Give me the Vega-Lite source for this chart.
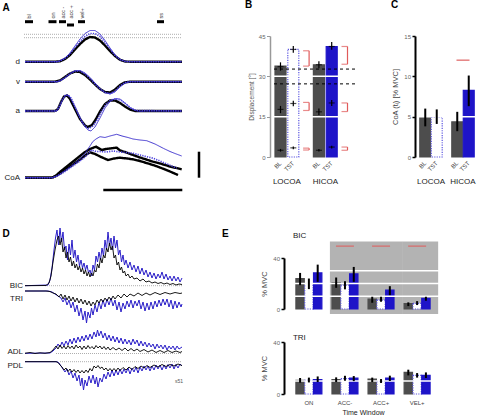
{
"$schema": "https://vega.github.io/schema/vega-lite/v6.json",
"padding": {"left": 2, "top": 0, "right": 0, "bottom": 0},
"background": "white",
"bounds": "flush",
"spacing": 222,
"resolve": {"scale": {"x": "independent", "y": "independent", "xOffset": "independent"}},
"config": {"view": {"stroke": null}, "font": "Liberation Sans", "axis": {"grid": false, "labelFont": "Liberation Sans", "titleFont": "Liberation Sans", "titleFontWeight": "normal"}, "title": {"font": "Liberation Sans"}, "text": {"font": "Liberation Sans"}},
"datasets": {
"A": [
{"k":"dB","c":"BL","t":25,"y":61.7},{"k":"dB","c":"BL","t":55,"y":61.7},{"k":"dB","c":"BL","t":60,"y":61.3},{"k":"dB","c":"BL","t":65,"y":59},{"k":"dB","c":"BL","t":70,"y":55},{"k":"dB","c":"BL","t":75,"y":49.5},{"k":"dB","c":"BL","t":80,"y":44},{"k":"dB","c":"BL","t":85,"y":39.5},{"k":"dB","c":"BL","t":90,"y":37},{"k":"dB","c":"BL","t":95,"y":37.5},{"k":"dB","c":"BL","t":100,"y":40.5},{"k":"dB","c":"BL","t":105,"y":45.5},{"k":"dB","c":"BL","t":110,"y":51},{"k":"dB","c":"BL","t":115,"y":56},{"k":"dB","c":"BL","t":120,"y":59.8},{"k":"dB","c":"BL","t":125,"y":61.5},{"k":"dB","c":"BL","t":130,"y":61.7},{"k":"dB","c":"BL","t":182,"y":61.7},
{"k":"dH","c":"HI","t":25,"y":61.7},{"k":"dH","c":"HI","t":57,"y":61.7},{"k":"dH","c":"HI","t":60,"y":61},{"k":"dH","c":"HI","t":65,"y":58},{"k":"dH","c":"HI","t":70,"y":53},{"k":"dH","c":"HI","t":75,"y":46},{"k":"dH","c":"HI","t":80,"y":39},{"k":"dH","c":"HI","t":85,"y":33.5},{"k":"dH","c":"HI","t":90,"y":30.5},{"k":"dH","c":"HI","t":95,"y":30.5},{"k":"dH","c":"HI","t":100,"y":34},{"k":"dH","c":"HI","t":105,"y":40.5},{"k":"dH","c":"HI","t":110,"y":48},{"k":"dH","c":"HI","t":115,"y":55},{"k":"dH","c":"HI","t":120,"y":59.5},{"k":"dH","c":"HI","t":125,"y":61.3},{"k":"dH","c":"HI","t":130,"y":61.7},{"k":"dH","c":"HI","t":182,"y":61.7},
{"k":"dL","c":"LO","t":25,"y":61.7},{"k":"dL","c":"LO","t":57,"y":61.7},{"k":"dL","c":"LO","t":60,"y":61},{"k":"dL","c":"LO","t":65,"y":58.5},{"k":"dL","c":"LO","t":70,"y":54},{"k":"dL","c":"LO","t":75,"y":47.5},{"k":"dL","c":"LO","t":80,"y":41.5},{"k":"dL","c":"LO","t":85,"y":36.5},{"k":"dL","c":"LO","t":90,"y":33.5},{"k":"dL","c":"LO","t":95,"y":33.5},{"k":"dL","c":"LO","t":100,"y":36.5},{"k":"dL","c":"LO","t":105,"y":42.5},{"k":"dL","c":"LO","t":110,"y":49},{"k":"dL","c":"LO","t":115,"y":55.5},{"k":"dL","c":"LO","t":120,"y":59.5},{"k":"dL","c":"LO","t":125,"y":61.4},{"k":"dL","c":"LO","t":130,"y":61.7},{"k":"dL","c":"LO","t":182,"y":61.7},
{"k":"vB","c":"BL","t":25,"y":81.7},{"k":"vB","c":"BL","t":55,"y":81.7},{"k":"vB","c":"BL","t":60,"y":80.5},{"k":"vB","c":"BL","t":65,"y":77},{"k":"vB","c":"BL","t":70,"y":73.5},{"k":"vB","c":"BL","t":75,"y":71.5},{"k":"vB","c":"BL","t":80,"y":72},{"k":"vB","c":"BL","t":85,"y":75},{"k":"vB","c":"BL","t":90,"y":79.5},{"k":"vB","c":"BL","t":95,"y":84.5},{"k":"vB","c":"BL","t":100,"y":89},{"k":"vB","c":"BL","t":105,"y":92},{"k":"vB","c":"BL","t":110,"y":92.5},{"k":"vB","c":"BL","t":115,"y":89.5},{"k":"vB","c":"BL","t":120,"y":85},{"k":"vB","c":"BL","t":125,"y":82.3},{"k":"vB","c":"BL","t":130,"y":81.7},{"k":"vB","c":"BL","t":182,"y":81.7},
{"k":"vH","c":"HI","t":25,"y":81.7},{"k":"vH","c":"HI","t":57,"y":81.7},{"k":"vH","c":"HI","t":60,"y":81},{"k":"vH","c":"HI","t":65,"y":78},{"k":"vH","c":"HI","t":70,"y":74},{"k":"vH","c":"HI","t":75,"y":71},{"k":"vH","c":"HI","t":80,"y":70.5},{"k":"vH","c":"HI","t":85,"y":73},{"k":"vH","c":"HI","t":90,"y":77.5},{"k":"vH","c":"HI","t":95,"y":83},{"k":"vH","c":"HI","t":100,"y":88.5},{"k":"vH","c":"HI","t":105,"y":92.5},{"k":"vH","c":"HI","t":110,"y":94},{"k":"vH","c":"HI","t":115,"y":92},{"k":"vH","c":"HI","t":120,"y":87},{"k":"vH","c":"HI","t":125,"y":83},{"k":"vH","c":"HI","t":130,"y":81.7},{"k":"vH","c":"HI","t":182,"y":81.7},
{"k":"vL","c":"LO","t":25,"y":81.7},{"k":"vL","c":"LO","t":57,"y":81.7},{"k":"vL","c":"LO","t":60,"y":80.8},{"k":"vL","c":"LO","t":65,"y":77.5},{"k":"vL","c":"LO","t":70,"y":73.5},{"k":"vL","c":"LO","t":75,"y":70.8},{"k":"vL","c":"LO","t":80,"y":71},{"k":"vL","c":"LO","t":85,"y":74},{"k":"vL","c":"LO","t":90,"y":78.5},{"k":"vL","c":"LO","t":95,"y":84},{"k":"vL","c":"LO","t":100,"y":89},{"k":"vL","c":"LO","t":105,"y":92.5},{"k":"vL","c":"LO","t":110,"y":93.5},{"k":"vL","c":"LO","t":115,"y":91},{"k":"vL","c":"LO","t":120,"y":86},{"k":"vL","c":"LO","t":125,"y":82.5},{"k":"vL","c":"LO","t":130,"y":81.7},{"k":"vL","c":"LO","t":182,"y":81.7},
{"k":"aB","c":"BL","t":25,"y":111},{"k":"aB","c":"BL","t":55,"y":111},{"k":"aB","c":"BL","t":58,"y":109},{"k":"aB","c":"BL","t":61,"y":102},{"k":"aB","c":"BL","t":64,"y":96.5},{"k":"aB","c":"BL","t":67,"y":95.5},{"k":"aB","c":"BL","t":70,"y":99},{"k":"aB","c":"BL","t":75,"y":109},{"k":"aB","c":"BL","t":80,"y":119},{"k":"aB","c":"BL","t":85,"y":125.5},{"k":"aB","c":"BL","t":88,"y":127},{"k":"aB","c":"BL","t":92,"y":125},{"k":"aB","c":"BL","t":96,"y":119},{"k":"aB","c":"BL","t":100,"y":111.5},{"k":"aB","c":"BL","t":105,"y":104},{"k":"aB","c":"BL","t":110,"y":100.5},{"k":"aB","c":"BL","t":115,"y":100.5},{"k":"aB","c":"BL","t":120,"y":103},{"k":"aB","c":"BL","t":125,"y":106.5},{"k":"aB","c":"BL","t":130,"y":109.5},{"k":"aB","c":"BL","t":135,"y":111},{"k":"aB","c":"BL","t":182,"y":111},
{"k":"aH","c":"HI","t":25,"y":111},{"k":"aH","c":"HI","t":57,"y":111},{"k":"aH","c":"HI","t":60,"y":106},{"k":"aH","c":"HI","t":63,"y":99},{"k":"aH","c":"HI","t":66,"y":95},{"k":"aH","c":"HI","t":69,"y":95.5},{"k":"aH","c":"HI","t":73,"y":103},{"k":"aH","c":"HI","t":78,"y":114},{"k":"aH","c":"HI","t":83,"y":124},{"k":"aH","c":"HI","t":88,"y":130},{"k":"aH","c":"HI","t":91,"y":131},{"k":"aH","c":"HI","t":95,"y":127},{"k":"aH","c":"HI","t":100,"y":118},{"k":"aH","c":"HI","t":105,"y":108},{"k":"aH","c":"HI","t":110,"y":101.5},{"k":"aH","c":"HI","t":115,"y":98.5},{"k":"aH","c":"HI","t":120,"y":99},{"k":"aH","c":"HI","t":125,"y":103},{"k":"aH","c":"HI","t":130,"y":107.5},{"k":"aH","c":"HI","t":135,"y":110.5},{"k":"aH","c":"HI","t":140,"y":111.5},{"k":"aH","c":"HI","t":145,"y":111},{"k":"aH","c":"HI","t":182,"y":111},
{"k":"aL","c":"LO","t":25,"y":111},{"k":"aL","c":"LO","t":56,"y":111},{"k":"aL","c":"LO","t":59,"y":107},{"k":"aL","c":"LO","t":62,"y":100},{"k":"aL","c":"LO","t":65,"y":95.5},{"k":"aL","c":"LO","t":68,"y":95},{"k":"aL","c":"LO","t":71,"y":98},{"k":"aL","c":"LO","t":76,"y":109},{"k":"aL","c":"LO","t":81,"y":120},{"k":"aL","c":"LO","t":86,"y":127},{"k":"aL","c":"LO","t":89,"y":128.5},{"k":"aL","c":"LO","t":93,"y":126},{"k":"aL","c":"LO","t":97,"y":120},{"k":"aL","c":"LO","t":101,"y":112},{"k":"aL","c":"LO","t":106,"y":104},{"k":"aL","c":"LO","t":111,"y":100},{"k":"aL","c":"LO","t":116,"y":99},{"k":"aL","c":"LO","t":121,"y":100.5},{"k":"aL","c":"LO","t":126,"y":104},{"k":"aL","c":"LO","t":131,"y":108},{"k":"aL","c":"LO","t":136,"y":110.5},{"k":"aL","c":"LO","t":182,"y":111},
{"k":"c1","c":"BL","t":25,"y":177.7},{"k":"c1","c":"BL","t":52,"y":177.7},{"k":"c1","c":"BL","t":56,"y":175.5},{"k":"c1","c":"BL","t":60,"y":172},{"k":"c1","c":"BL","t":65,"y":168},{"k":"c1","c":"BL","t":70,"y":164},{"k":"c1","c":"BL","t":75,"y":160},{"k":"c1","c":"BL","t":80,"y":156},{"k":"c1","c":"BL","t":85,"y":152},{"k":"c1","c":"BL","t":90,"y":149},{"k":"c1","c":"BL","t":96,"y":146.7},{"k":"c1","c":"BL","t":101.7,"y":150},{"k":"c1","c":"BL","t":106,"y":149},{"k":"c1","c":"BL","t":110,"y":148.5},{"k":"c1","c":"BL","t":116.7,"y":147.7},{"k":"c1","c":"BL","t":120,"y":150.5},{"k":"c1","c":"BL","t":125,"y":152},{"k":"c1","c":"BL","t":133,"y":155},{"k":"c1","c":"BL","t":140,"y":157.5},{"k":"c1","c":"BL","t":153,"y":161.7},{"k":"c1","c":"BL","t":160,"y":163.5},{"k":"c1","c":"BL","t":170,"y":166.5},{"k":"c1","c":"BL","t":181.7,"y":169.3},
{"k":"c2","c":"BL","t":25,"y":177.7},{"k":"c2","c":"BL","t":52,"y":177.7},{"k":"c2","c":"BL","t":56,"y":176},{"k":"c2","c":"BL","t":60,"y":173.5},{"k":"c2","c":"BL","t":65,"y":170},{"k":"c2","c":"BL","t":70,"y":166.5},{"k":"c2","c":"BL","t":75,"y":163},{"k":"c2","c":"BL","t":80,"y":159.5},{"k":"c2","c":"BL","t":85,"y":155.5},{"k":"c2","c":"BL","t":90,"y":152.3},{"k":"c2","c":"BL","t":95,"y":154},{"k":"c2","c":"BL","t":100,"y":156.5},{"k":"c2","c":"BL","t":108,"y":160},{"k":"c2","c":"BL","t":114,"y":158.5},{"k":"c2","c":"BL","t":120,"y":157.7},{"k":"c2","c":"BL","t":127,"y":158.5},{"k":"c2","c":"BL","t":133,"y":159.3},{"k":"c2","c":"BL","t":140,"y":161},{"k":"c2","c":"BL","t":153,"y":165},{"k":"c2","c":"BL","t":160,"y":167.5},{"k":"c2","c":"BL","t":170,"y":171.5},{"k":"c2","c":"BL","t":178,"y":175},
{"k":"cH","c":"HI","t":25,"y":177.7},{"k":"cH","c":"HI","t":52,"y":177.7},{"k":"cH","c":"HI","t":57,"y":176},{"k":"cH","c":"HI","t":60,"y":174},{"k":"cH","c":"HI","t":65,"y":170.5},{"k":"cH","c":"HI","t":70,"y":167},{"k":"cH","c":"HI","t":75,"y":163},{"k":"cH","c":"HI","t":80,"y":159},{"k":"cH","c":"HI","t":85,"y":153.5},{"k":"cH","c":"HI","t":90,"y":146},{"k":"cH","c":"HI","t":92.7,"y":141.7},{"k":"cH","c":"HI","t":96,"y":139},{"k":"cH","c":"HI","t":100,"y":136.7},{"k":"cH","c":"HI","t":105,"y":137.5},{"k":"cH","c":"HI","t":110,"y":136},{"k":"cH","c":"HI","t":116.7,"y":134.3},{"k":"cH","c":"HI","t":122,"y":136},{"k":"cH","c":"HI","t":128,"y":137.5},{"k":"cH","c":"HI","t":133,"y":139},{"k":"cH","c":"HI","t":140,"y":140},{"k":"cH","c":"HI","t":146.7,"y":140.7},{"k":"cH","c":"HI","t":155,"y":144},{"k":"cH","c":"HI","t":163.3,"y":148.3},{"k":"cH","c":"HI","t":170,"y":151.5},{"k":"cH","c":"HI","t":175,"y":153.5},{"k":"cH","c":"HI","t":181.7,"y":156},
{"k":"cL","c":"LO","t":25,"y":177.7},{"k":"cL","c":"LO","t":52,"y":177.7},{"k":"cL","c":"LO","t":57,"y":176},{"k":"cL","c":"LO","t":60,"y":174.5},{"k":"cL","c":"LO","t":65,"y":171.5},{"k":"cL","c":"LO","t":70,"y":168},{"k":"cL","c":"LO","t":75,"y":164.5},{"k":"cL","c":"LO","t":80,"y":161},{"k":"cL","c":"LO","t":85,"y":157},{"k":"cL","c":"LO","t":91.7,"y":150},{"k":"cL","c":"LO","t":96,"y":151.5},{"k":"cL","c":"LO","t":100,"y":151.5},{"k":"cL","c":"LO","t":106,"y":152},{"k":"cL","c":"LO","t":113.3,"y":151},{"k":"cL","c":"LO","t":120,"y":152},{"k":"cL","c":"LO","t":126,"y":152.5},{"k":"cL","c":"LO","t":133,"y":153.3},{"k":"cL","c":"LO","t":140,"y":155},{"k":"cL","c":"LO","t":153.3,"y":158.3},{"k":"cL","c":"LO","t":160,"y":161},{"k":"cL","c":"LO","t":167,"y":164},{"k":"cL","c":"LO","t":173,"y":166.7},{"k":"cL","c":"LO","t":176.7,"y":168}
],
"D": [
{"k":"bicB","c":"BL","t":25,"y":285.7},{"k":"bicB","c":"BL","t":46,"y":285.5},{"k":"bicB","c":"BL","t":49,"y":283},{"k":"bicB","c":"BL","t":51,"y":276},{"k":"bicB","c":"BL","t":53,"y":262},{"k":"bicB","c":"BL","t":55,"y":250},{"k":"bicB","c":"BL","t":57,"y":240},{"k":"bicB","c":"BL","t":58.5,"y":236},{"k":"bicB","c":"BL","t":60,"y":245},{"k":"bicB","c":"BL","t":61.5,"y":238},{"k":"bicB","c":"BL","t":63,"y":252},{"k":"bicB","c":"BL","t":64.5,"y":247},{"k":"bicB","c":"BL","t":66,"y":258},{"k":"bicB","c":"BL","t":67.5,"y":252},{"k":"bicB","c":"BL","t":69,"y":262},{"k":"bicB","c":"BL","t":70.5,"y":257},{"k":"bicB","c":"BL","t":72,"y":266},{"k":"bicB","c":"BL","t":73.5,"y":261},{"k":"bicB","c":"BL","t":75,"y":268},{"k":"bicB","c":"BL","t":76.5,"y":264},{"k":"bicB","c":"BL","t":78,"y":270},{"k":"bicB","c":"BL","t":79.5,"y":266},{"k":"bicB","c":"BL","t":81,"y":272},{"k":"bicB","c":"BL","t":82.5,"y":268},{"k":"bicB","c":"BL","t":84,"y":274},{"k":"bicB","c":"BL","t":85.5,"y":270},{"k":"bicB","c":"BL","t":87,"y":276},{"k":"bicB","c":"BL","t":88.5,"y":272},{"k":"bicB","c":"BL","t":90,"y":277},{"k":"bicB","c":"BL","t":91.5,"y":273},{"k":"bicB","c":"BL","t":93,"y":276},{"k":"bicB","c":"BL","t":94.5,"y":270},{"k":"bicB","c":"BL","t":96,"y":272},{"k":"bicB","c":"BL","t":97.5,"y":264},{"k":"bicB","c":"BL","t":99,"y":268},{"k":"bicB","c":"BL","t":100.5,"y":258},{"k":"bicB","c":"BL","t":102,"y":263},{"k":"bicB","c":"BL","t":103.5,"y":255},{"k":"bicB","c":"BL","t":105,"y":258},{"k":"bicB","c":"BL","t":106.5,"y":248},{"k":"bicB","c":"BL","t":108,"y":252},{"k":"bicB","c":"BL","t":109.5,"y":243},{"k":"bicB","c":"BL","t":111,"y":250},{"k":"bicB","c":"BL","t":112.5,"y":246},{"k":"bicB","c":"BL","t":114,"y":258},{"k":"bicB","c":"BL","t":115.5,"y":255},{"k":"bicB","c":"BL","t":117,"y":265},{"k":"bicB","c":"BL","t":118.5,"y":262},{"k":"bicB","c":"BL","t":120,"y":270},{"k":"bicB","c":"BL","t":121.5,"y":267},{"k":"bicB","c":"BL","t":123,"y":273},{"k":"bicB","c":"BL","t":124.5,"y":271},{"k":"bicB","c":"BL","t":126,"y":276},{"k":"bicB","c":"BL","t":128,"y":274},{"k":"bicB","c":"BL","t":130,"y":278},{"k":"bicB","c":"BL","t":132,"y":276},{"k":"bicB","c":"BL","t":134,"y":279},{"k":"bicB","c":"BL","t":137,"y":278},{"k":"bicB","c":"BL","t":140,"y":281},{"k":"bicB","c":"BL","t":143,"y":279},{"k":"bicB","c":"BL","t":146,"y":282},{"k":"bicB","c":"BL","t":149,"y":281},{"k":"bicB","c":"BL","t":152,"y":283},{"k":"bicB","c":"BL","t":155,"y":282},{"k":"bicB","c":"BL","t":158,"y":283.5},{"k":"bicB","c":"BL","t":161,"y":282.5},{"k":"bicB","c":"BL","t":164,"y":284},{"k":"bicB","c":"BL","t":167,"y":283},{"k":"bicB","c":"BL","t":170,"y":284.5},{"k":"bicB","c":"BL","t":173,"y":283.5},{"k":"bicB","c":"BL","t":176,"y":285},{"k":"bicB","c":"BL","t":179,"y":284},{"k":"bicB","c":"BL","t":182,"y":284.5},
{"k":"bicH","c":"HI","t":25,"y":285.7},{"k":"bicH","c":"HI","t":48,"y":285},{"k":"bicH","c":"HI","t":50,"y":280},{"k":"bicH","c":"HI","t":52,"y":268},{"k":"bicH","c":"HI","t":54,"y":250},{"k":"bicH","c":"HI","t":55.5,"y":238},{"k":"bicH","c":"HI","t":57,"y":230},{"k":"bicH","c":"HI","t":58.5,"y":245},{"k":"bicH","c":"HI","t":60,"y":228},{"k":"bicH","c":"HI","t":61.5,"y":242},{"k":"bicH","c":"HI","t":63,"y":232},{"k":"bicH","c":"HI","t":64.5,"y":250},{"k":"bicH","c":"HI","t":66,"y":246},{"k":"bicH","c":"HI","t":67.5,"y":260},{"k":"bicH","c":"HI","t":69,"y":244},{"k":"bicH","c":"HI","t":70.5,"y":255},{"k":"bicH","c":"HI","t":72,"y":240},{"k":"bicH","c":"HI","t":73.5,"y":258},{"k":"bicH","c":"HI","t":75,"y":250},{"k":"bicH","c":"HI","t":76.5,"y":262},{"k":"bicH","c":"HI","t":78,"y":255},{"k":"bicH","c":"HI","t":79.5,"y":266},{"k":"bicH","c":"HI","t":81,"y":260},{"k":"bicH","c":"HI","t":82.5,"y":268},{"k":"bicH","c":"HI","t":84,"y":263},{"k":"bicH","c":"HI","t":85.5,"y":270},{"k":"bicH","c":"HI","t":87,"y":265},{"k":"bicH","c":"HI","t":88.5,"y":273},{"k":"bicH","c":"HI","t":90,"y":270},{"k":"bicH","c":"HI","t":91.5,"y":276},{"k":"bicH","c":"HI","t":93,"y":265},{"k":"bicH","c":"HI","t":94.5,"y":270},{"k":"bicH","c":"HI","t":96,"y":256},{"k":"bicH","c":"HI","t":97.5,"y":262},{"k":"bicH","c":"HI","t":99,"y":252},{"k":"bicH","c":"HI","t":100.5,"y":260},{"k":"bicH","c":"HI","t":102,"y":248},{"k":"bicH","c":"HI","t":103.5,"y":256},{"k":"bicH","c":"HI","t":105,"y":240},{"k":"bicH","c":"HI","t":106.5,"y":250},{"k":"bicH","c":"HI","t":108,"y":232},{"k":"bicH","c":"HI","t":109.5,"y":246},{"k":"bicH","c":"HI","t":111,"y":238},{"k":"bicH","c":"HI","t":112.5,"y":250},{"k":"bicH","c":"HI","t":114,"y":236},{"k":"bicH","c":"HI","t":115.5,"y":248},{"k":"bicH","c":"HI","t":117,"y":240},{"k":"bicH","c":"HI","t":118.5,"y":255},{"k":"bicH","c":"HI","t":120,"y":250},{"k":"bicH","c":"HI","t":121.5,"y":262},{"k":"bicH","c":"HI","t":123,"y":255},{"k":"bicH","c":"HI","t":124.5,"y":265},{"k":"bicH","c":"HI","t":126,"y":260},{"k":"bicH","c":"HI","t":128,"y":268},{"k":"bicH","c":"HI","t":130,"y":262},{"k":"bicH","c":"HI","t":132,"y":270},{"k":"bicH","c":"HI","t":134,"y":265},{"k":"bicH","c":"HI","t":136,"y":272},{"k":"bicH","c":"HI","t":138,"y":266},{"k":"bicH","c":"HI","t":140,"y":274},{"k":"bicH","c":"HI","t":142,"y":268},{"k":"bicH","c":"HI","t":144,"y":275},{"k":"bicH","c":"HI","t":146,"y":270},{"k":"bicH","c":"HI","t":148,"y":277},{"k":"bicH","c":"HI","t":150,"y":272},{"k":"bicH","c":"HI","t":152,"y":278},{"k":"bicH","c":"HI","t":154,"y":273},{"k":"bicH","c":"HI","t":156,"y":279},{"k":"bicH","c":"HI","t":158,"y":274},{"k":"bicH","c":"HI","t":160,"y":278},{"k":"bicH","c":"HI","t":162,"y":272},{"k":"bicH","c":"HI","t":164,"y":279},{"k":"bicH","c":"HI","t":166,"y":274},{"k":"bicH","c":"HI","t":168,"y":280},{"k":"bicH","c":"HI","t":170,"y":276},{"k":"bicH","c":"HI","t":172,"y":281},{"k":"bicH","c":"HI","t":174,"y":276},{"k":"bicH","c":"HI","t":176,"y":281},{"k":"bicH","c":"HI","t":178,"y":277},{"k":"bicH","c":"HI","t":180,"y":282},{"k":"bicH","c":"HI","t":182,"y":278},
{"k":"triB","c":"BL","t":25,"y":291},{"k":"triB","c":"BL","t":46,"y":291},{"k":"triB","c":"BL","t":50,"y":291.5},{"k":"triB","c":"BL","t":53,"y":293},{"k":"triB","c":"BL","t":56,"y":294},{"k":"triB","c":"BL","t":59,"y":297},{"k":"triB","c":"BL","t":61,"y":294},{"k":"triB","c":"BL","t":63,"y":299},{"k":"triB","c":"BL","t":65,"y":295},{"k":"triB","c":"BL","t":67,"y":300},{"k":"triB","c":"BL","t":69,"y":296},{"k":"triB","c":"BL","t":71,"y":301},{"k":"triB","c":"BL","t":73,"y":297},{"k":"triB","c":"BL","t":75,"y":302},{"k":"triB","c":"BL","t":77,"y":298},{"k":"triB","c":"BL","t":79,"y":303},{"k":"triB","c":"BL","t":81,"y":299},{"k":"triB","c":"BL","t":83,"y":304},{"k":"triB","c":"BL","t":85,"y":300},{"k":"triB","c":"BL","t":87,"y":305},{"k":"triB","c":"BL","t":89,"y":301},{"k":"triB","c":"BL","t":91,"y":306},{"k":"triB","c":"BL","t":93,"y":302},{"k":"triB","c":"BL","t":95,"y":305},{"k":"triB","c":"BL","t":97,"y":300},{"k":"triB","c":"BL","t":99,"y":303},{"k":"triB","c":"BL","t":101,"y":299},{"k":"triB","c":"BL","t":103,"y":302},{"k":"triB","c":"BL","t":105,"y":298},{"k":"triB","c":"BL","t":107,"y":301},{"k":"triB","c":"BL","t":109,"y":297},{"k":"triB","c":"BL","t":111,"y":300},{"k":"triB","c":"BL","t":113,"y":296},{"k":"triB","c":"BL","t":115,"y":299},{"k":"triB","c":"BL","t":118,"y":295},{"k":"triB","c":"BL","t":121,"y":298},{"k":"triB","c":"BL","t":124,"y":294},{"k":"triB","c":"BL","t":127,"y":297},{"k":"triB","c":"BL","t":130,"y":294},{"k":"triB","c":"BL","t":134,"y":296},{"k":"triB","c":"BL","t":138,"y":293},{"k":"triB","c":"BL","t":142,"y":295.5},{"k":"triB","c":"BL","t":146,"y":293},{"k":"triB","c":"BL","t":150,"y":295},{"k":"triB","c":"BL","t":155,"y":292.5},{"k":"triB","c":"BL","t":160,"y":294.5},{"k":"triB","c":"BL","t":165,"y":292.5},{"k":"triB","c":"BL","t":170,"y":294},{"k":"triB","c":"BL","t":175,"y":292.5},{"k":"triB","c":"BL","t":180,"y":293.5},{"k":"triB","c":"BL","t":182,"y":293},
{"k":"triH","c":"HI","t":25,"y":291},{"k":"triH","c":"HI","t":48,"y":291},{"k":"triH","c":"HI","t":52,"y":292},{"k":"triH","c":"HI","t":55,"y":294},{"k":"triH","c":"HI","t":58,"y":296},{"k":"triH","c":"HI","t":61,"y":298},{"k":"triH","c":"HI","t":63,"y":302},{"k":"triH","c":"HI","t":65,"y":298},{"k":"triH","c":"HI","t":67,"y":305},{"k":"triH","c":"HI","t":69,"y":300},{"k":"triH","c":"HI","t":71,"y":308},{"k":"triH","c":"HI","t":73,"y":302},{"k":"triH","c":"HI","t":75,"y":312},{"k":"triH","c":"HI","t":77,"y":305},{"k":"triH","c":"HI","t":79,"y":316},{"k":"triH","c":"HI","t":81,"y":308},{"k":"triH","c":"HI","t":83,"y":320},{"k":"triH","c":"HI","t":85,"y":311},{"k":"triH","c":"HI","t":86.5,"y":323},{"k":"triH","c":"HI","t":88,"y":312},{"k":"triH","c":"HI","t":90,"y":318},{"k":"triH","c":"HI","t":91.5,"y":308},{"k":"triH","c":"HI","t":93,"y":315},{"k":"triH","c":"HI","t":95,"y":305},{"k":"triH","c":"HI","t":97,"y":312},{"k":"triH","c":"HI","t":99,"y":302},{"k":"triH","c":"HI","t":101,"y":309},{"k":"triH","c":"HI","t":103,"y":300},{"k":"triH","c":"HI","t":105,"y":307},{"k":"triH","c":"HI","t":107,"y":299},{"k":"triH","c":"HI","t":109,"y":305},{"k":"triH","c":"HI","t":111,"y":298},{"k":"triH","c":"HI","t":113,"y":306},{"k":"triH","c":"HI","t":115,"y":300},{"k":"triH","c":"HI","t":117,"y":310},{"k":"triH","c":"HI","t":119,"y":302},{"k":"triH","c":"HI","t":121,"y":312},{"k":"triH","c":"HI","t":123,"y":303},{"k":"triH","c":"HI","t":125,"y":309},{"k":"triH","c":"HI","t":127,"y":301},{"k":"triH","c":"HI","t":129,"y":307},{"k":"triH","c":"HI","t":131,"y":300},{"k":"triH","c":"HI","t":133,"y":308},{"k":"triH","c":"HI","t":135,"y":301},{"k":"triH","c":"HI","t":137,"y":306},{"k":"triH","c":"HI","t":139,"y":300},{"k":"triH","c":"HI","t":141,"y":309},{"k":"triH","c":"HI","t":143,"y":302},{"k":"triH","c":"HI","t":145,"y":311},{"k":"triH","c":"HI","t":147,"y":303},{"k":"triH","c":"HI","t":149,"y":310},{"k":"triH","c":"HI","t":151,"y":302},{"k":"triH","c":"HI","t":153,"y":309},{"k":"triH","c":"HI","t":155,"y":301},{"k":"triH","c":"HI","t":157,"y":307},{"k":"triH","c":"HI","t":159,"y":300},{"k":"triH","c":"HI","t":161,"y":306},{"k":"triH","c":"HI","t":163,"y":299},{"k":"triH","c":"HI","t":165,"y":305},{"k":"triH","c":"HI","t":167,"y":299},{"k":"triH","c":"HI","t":169,"y":307},{"k":"triH","c":"HI","t":171,"y":300},{"k":"triH","c":"HI","t":173,"y":309},{"k":"triH","c":"HI","t":175,"y":301},{"k":"triH","c":"HI","t":177,"y":308},{"k":"triH","c":"HI","t":179,"y":302},{"k":"triH","c":"HI","t":181,"y":307},{"k":"triH","c":"HI","t":182,"y":304},
{"k":"adlB","c":"BL","t":25,"y":353.3},{"k":"adlB","c":"BL","t":30,"y":352.5},{"k":"adlB","c":"BL","t":35,"y":353.5},{"k":"adlB","c":"BL","t":40,"y":352.8},{"k":"adlB","c":"BL","t":45,"y":353.3},{"k":"adlB","c":"BL","t":50,"y":352.5},{"k":"adlB","c":"BL","t":53,"y":350},{"k":"adlB","c":"BL","t":56,"y":346},{"k":"adlB","c":"BL","t":58,"y":349},{"k":"adlB","c":"BL","t":60,"y":345},{"k":"adlB","c":"BL","t":62,"y":348.5},{"k":"adlB","c":"BL","t":64,"y":346},{"k":"adlB","c":"BL","t":66,"y":349},{"k":"adlB","c":"BL","t":68,"y":345.5},{"k":"adlB","c":"BL","t":70,"y":348.5},{"k":"adlB","c":"BL","t":72,"y":346},{"k":"adlB","c":"BL","t":74,"y":349},{"k":"adlB","c":"BL","t":76,"y":345},{"k":"adlB","c":"BL","t":78,"y":348},{"k":"adlB","c":"BL","t":80,"y":346},{"k":"adlB","c":"BL","t":82,"y":349.5},{"k":"adlB","c":"BL","t":84,"y":346},{"k":"adlB","c":"BL","t":86,"y":349},{"k":"adlB","c":"BL","t":88,"y":345.5},{"k":"adlB","c":"BL","t":90,"y":348.5},{"k":"adlB","c":"BL","t":92,"y":346.5},{"k":"adlB","c":"BL","t":94,"y":349},{"k":"adlB","c":"BL","t":96,"y":345.5},{"k":"adlB","c":"BL","t":98,"y":348},{"k":"adlB","c":"BL","t":100,"y":346},{"k":"adlB","c":"BL","t":102,"y":349},{"k":"adlB","c":"BL","t":104,"y":346.5},{"k":"adlB","c":"BL","t":106,"y":349.5},{"k":"adlB","c":"BL","t":108,"y":347},{"k":"adlB","c":"BL","t":110,"y":350},{"k":"adlB","c":"BL","t":113,"y":347.5},{"k":"adlB","c":"BL","t":116,"y":350},{"k":"adlB","c":"BL","t":119,"y":348},{"k":"adlB","c":"BL","t":122,"y":350.5},{"k":"adlB","c":"BL","t":125,"y":348},{"k":"adlB","c":"BL","t":128,"y":351},{"k":"adlB","c":"BL","t":131,"y":348.5},{"k":"adlB","c":"BL","t":134,"y":351},{"k":"adlB","c":"BL","t":137,"y":349},{"k":"adlB","c":"BL","t":140,"y":351.5},{"k":"adlB","c":"BL","t":144,"y":349.5},{"k":"adlB","c":"BL","t":148,"y":352},{"k":"adlB","c":"BL","t":152,"y":350},{"k":"adlB","c":"BL","t":156,"y":352.5},{"k":"adlB","c":"BL","t":160,"y":350.5},{"k":"adlB","c":"BL","t":164,"y":352.5},{"k":"adlB","c":"BL","t":168,"y":350.5},{"k":"adlB","c":"BL","t":172,"y":352.5},{"k":"adlB","c":"BL","t":176,"y":351},{"k":"adlB","c":"BL","t":180,"y":352.5},{"k":"adlB","c":"BL","t":182,"y":351.5},
{"k":"adlH","c":"HI","t":25,"y":353.3},{"k":"adlH","c":"HI","t":50,"y":353},{"k":"adlH","c":"HI","t":53,"y":351},{"k":"adlH","c":"HI","t":56,"y":348},{"k":"adlH","c":"HI","t":58,"y":344},{"k":"adlH","c":"HI","t":60,"y":347},{"k":"adlH","c":"HI","t":62,"y":342},{"k":"adlH","c":"HI","t":64,"y":346},{"k":"adlH","c":"HI","t":66,"y":341},{"k":"adlH","c":"HI","t":68,"y":345},{"k":"adlH","c":"HI","t":70,"y":339},{"k":"adlH","c":"HI","t":72,"y":344},{"k":"adlH","c":"HI","t":74,"y":338},{"k":"adlH","c":"HI","t":76,"y":343},{"k":"adlH","c":"HI","t":78,"y":337},{"k":"adlH","c":"HI","t":80,"y":342},{"k":"adlH","c":"HI","t":82,"y":336},{"k":"adlH","c":"HI","t":84,"y":341},{"k":"adlH","c":"HI","t":86,"y":335},{"k":"adlH","c":"HI","t":88,"y":340},{"k":"adlH","c":"HI","t":90,"y":334},{"k":"adlH","c":"HI","t":92,"y":339},{"k":"adlH","c":"HI","t":94,"y":332},{"k":"adlH","c":"HI","t":96,"y":337},{"k":"adlH","c":"HI","t":97.5,"y":330},{"k":"adlH","c":"HI","t":99,"y":336},{"k":"adlH","c":"HI","t":101,"y":331},{"k":"adlH","c":"HI","t":103,"y":338},{"k":"adlH","c":"HI","t":105,"y":333},{"k":"adlH","c":"HI","t":107,"y":340},{"k":"adlH","c":"HI","t":109,"y":335},{"k":"adlH","c":"HI","t":111,"y":341},{"k":"adlH","c":"HI","t":113,"y":336},{"k":"adlH","c":"HI","t":115,"y":342},{"k":"adlH","c":"HI","t":117,"y":337},{"k":"adlH","c":"HI","t":119,"y":343},{"k":"adlH","c":"HI","t":121,"y":338},{"k":"adlH","c":"HI","t":123,"y":344},{"k":"adlH","c":"HI","t":125,"y":339},{"k":"adlH","c":"HI","t":127,"y":344},{"k":"adlH","c":"HI","t":129,"y":340},{"k":"adlH","c":"HI","t":131,"y":345},{"k":"adlH","c":"HI","t":133,"y":339},{"k":"adlH","c":"HI","t":135,"y":344},{"k":"adlH","c":"HI","t":137,"y":340},{"k":"adlH","c":"HI","t":139,"y":346},{"k":"adlH","c":"HI","t":141,"y":341},{"k":"adlH","c":"HI","t":143,"y":346},{"k":"adlH","c":"HI","t":145,"y":342},{"k":"adlH","c":"HI","t":147,"y":347},{"k":"adlH","c":"HI","t":149,"y":343},{"k":"adlH","c":"HI","t":151,"y":347},{"k":"adlH","c":"HI","t":153,"y":344},{"k":"adlH","c":"HI","t":155,"y":349},{"k":"adlH","c":"HI","t":157,"y":344},{"k":"adlH","c":"HI","t":159,"y":348},{"k":"adlH","c":"HI","t":161,"y":345},{"k":"adlH","c":"HI","t":163,"y":349},{"k":"adlH","c":"HI","t":165,"y":345},{"k":"adlH","c":"HI","t":167,"y":350},{"k":"adlH","c":"HI","t":169,"y":346},{"k":"adlH","c":"HI","t":171,"y":349},{"k":"adlH","c":"HI","t":173,"y":346},{"k":"adlH","c":"HI","t":175,"y":350},{"k":"adlH","c":"HI","t":177,"y":346},{"k":"adlH","c":"HI","t":179,"y":349},{"k":"adlH","c":"HI","t":182,"y":347},
{"k":"pdlB","c":"BL","t":25,"y":361.7},{"k":"pdlB","c":"BL","t":56,"y":361.7},{"k":"pdlB","c":"BL","t":58,"y":362.5},{"k":"pdlB","c":"BL","t":60,"y":365},{"k":"pdlB","c":"BL","t":62,"y":367},{"k":"pdlB","c":"BL","t":64,"y":370},{"k":"pdlB","c":"BL","t":66,"y":368},{"k":"pdlB","c":"BL","t":68,"y":371.5},{"k":"pdlB","c":"BL","t":70,"y":369},{"k":"pdlB","c":"BL","t":72,"y":372},{"k":"pdlB","c":"BL","t":74,"y":369.5},{"k":"pdlB","c":"BL","t":76,"y":372.5},{"k":"pdlB","c":"BL","t":78,"y":370},{"k":"pdlB","c":"BL","t":80,"y":373},{"k":"pdlB","c":"BL","t":82,"y":370.5},{"k":"pdlB","c":"BL","t":84,"y":373},{"k":"pdlB","c":"BL","t":86,"y":370},{"k":"pdlB","c":"BL","t":88,"y":372.5},{"k":"pdlB","c":"BL","t":90,"y":368.5},{"k":"pdlB","c":"BL","t":92,"y":371},{"k":"pdlB","c":"BL","t":94,"y":366},{"k":"pdlB","c":"BL","t":96,"y":368},{"k":"pdlB","c":"BL","t":98,"y":365.5},{"k":"pdlB","c":"BL","t":100,"y":368.5},{"k":"pdlB","c":"BL","t":102,"y":367},{"k":"pdlB","c":"BL","t":104,"y":370},{"k":"pdlB","c":"BL","t":106,"y":368},{"k":"pdlB","c":"BL","t":108,"y":371},{"k":"pdlB","c":"BL","t":110,"y":368.5},{"k":"pdlB","c":"BL","t":112,"y":371},{"k":"pdlB","c":"BL","t":114,"y":368.5},{"k":"pdlB","c":"BL","t":116,"y":371},{"k":"pdlB","c":"BL","t":118,"y":368},{"k":"pdlB","c":"BL","t":120,"y":370.5},{"k":"pdlB","c":"BL","t":123,"y":367.5},{"k":"pdlB","c":"BL","t":126,"y":370},{"k":"pdlB","c":"BL","t":129,"y":367},{"k":"pdlB","c":"BL","t":132,"y":369.5},{"k":"pdlB","c":"BL","t":135,"y":366.5},{"k":"pdlB","c":"BL","t":138,"y":368.5},{"k":"pdlB","c":"BL","t":141,"y":366},{"k":"pdlB","c":"BL","t":144,"y":368},{"k":"pdlB","c":"BL","t":147,"y":365.5},{"k":"pdlB","c":"BL","t":150,"y":367.5},{"k":"pdlB","c":"BL","t":154,"y":365},{"k":"pdlB","c":"BL","t":158,"y":367},{"k":"pdlB","c":"BL","t":162,"y":364.5},{"k":"pdlB","c":"BL","t":166,"y":366.5},{"k":"pdlB","c":"BL","t":170,"y":364.5},{"k":"pdlB","c":"BL","t":174,"y":366},{"k":"pdlB","c":"BL","t":178,"y":364},{"k":"pdlB","c":"BL","t":182,"y":365.5},
{"k":"pdlH","c":"HI","t":25,"y":361.7},{"k":"pdlH","c":"HI","t":57,"y":361.7},{"k":"pdlH","c":"HI","t":59,"y":363},{"k":"pdlH","c":"HI","t":61,"y":366},{"k":"pdlH","c":"HI","t":63,"y":369},{"k":"pdlH","c":"HI","t":65,"y":372},{"k":"pdlH","c":"HI","t":67,"y":369},{"k":"pdlH","c":"HI","t":69,"y":375},{"k":"pdlH","c":"HI","t":71,"y":371},{"k":"pdlH","c":"HI","t":73,"y":378},{"k":"pdlH","c":"HI","t":75,"y":373},{"k":"pdlH","c":"HI","t":77,"y":381},{"k":"pdlH","c":"HI","t":79,"y":375},{"k":"pdlH","c":"HI","t":80.5,"y":386},{"k":"pdlH","c":"HI","t":82,"y":378},{"k":"pdlH","c":"HI","t":83.5,"y":390},{"k":"pdlH","c":"HI","t":85,"y":380},{"k":"pdlH","c":"HI","t":87,"y":386},{"k":"pdlH","c":"HI","t":89,"y":376},{"k":"pdlH","c":"HI","t":91,"y":383},{"k":"pdlH","c":"HI","t":93,"y":375},{"k":"pdlH","c":"HI","t":95,"y":384},{"k":"pdlH","c":"HI","t":96.5,"y":377},{"k":"pdlH","c":"HI","t":98,"y":387},{"k":"pdlH","c":"HI","t":100,"y":378},{"k":"pdlH","c":"HI","t":102,"y":382},{"k":"pdlH","c":"HI","t":104,"y":374},{"k":"pdlH","c":"HI","t":106,"y":379},{"k":"pdlH","c":"HI","t":108,"y":372},{"k":"pdlH","c":"HI","t":110,"y":377},{"k":"pdlH","c":"HI","t":112,"y":370},{"k":"pdlH","c":"HI","t":114,"y":376},{"k":"pdlH","c":"HI","t":116,"y":370},{"k":"pdlH","c":"HI","t":118,"y":375},{"k":"pdlH","c":"HI","t":120,"y":369},{"k":"pdlH","c":"HI","t":122,"y":374},{"k":"pdlH","c":"HI","t":124,"y":369},{"k":"pdlH","c":"HI","t":126,"y":373},{"k":"pdlH","c":"HI","t":128,"y":368},{"k":"pdlH","c":"HI","t":130,"y":374},{"k":"pdlH","c":"HI","t":132,"y":368},{"k":"pdlH","c":"HI","t":134,"y":372},{"k":"pdlH","c":"HI","t":136,"y":367},{"k":"pdlH","c":"HI","t":138,"y":373},{"k":"pdlH","c":"HI","t":140,"y":367},{"k":"pdlH","c":"HI","t":142,"y":371},{"k":"pdlH","c":"HI","t":144,"y":366},{"k":"pdlH","c":"HI","t":146,"y":370},{"k":"pdlH","c":"HI","t":148,"y":366},{"k":"pdlH","c":"HI","t":150,"y":371},{"k":"pdlH","c":"HI","t":152,"y":366},{"k":"pdlH","c":"HI","t":154,"y":370},{"k":"pdlH","c":"HI","t":156,"y":365},{"k":"pdlH","c":"HI","t":158,"y":369},{"k":"pdlH","c":"HI","t":160,"y":365},{"k":"pdlH","c":"HI","t":162,"y":370},{"k":"pdlH","c":"HI","t":164,"y":365},{"k":"pdlH","c":"HI","t":166,"y":369},{"k":"pdlH","c":"HI","t":168,"y":364.5},{"k":"pdlH","c":"HI","t":170,"y":368},{"k":"pdlH","c":"HI","t":172,"y":364},{"k":"pdlH","c":"HI","t":174,"y":369},{"k":"pdlH","c":"HI","t":176,"y":364.5},{"k":"pdlH","c":"HI","t":178,"y":368},{"k":"pdlH","c":"HI","t":180,"y":364},{"k":"pdlH","c":"HI","t":182,"y":366}
],
"Bbars": [{"slot":"LOCOA BL","c":"BL","s":"BL","v":33.8},{"slot":"LOCOA TST","c":"TST","s":"LO","v":40.0},{"slot":"HICOA BL","c":"BL","s":"BL","v":34.3},{"slot":"HICOA TST","c":"TST","s":"HI","v":41.1}],
"Berr": [
{"slot":"LOCOA BL","m":2.5,"lo":2.0,"hi":3.0},{"slot":"LOCOA BL","m":17.7,"lo":16.3,"hi":19.0},{"slot":"LOCOA BL","m":33.6,"lo":32.1,"hi":35.2},
{"slot":"LOCOA TST","m":3.4,"lo":2.9,"hi":3.9},{"slot":"LOCOA TST","m":19.9,"lo":18.9,"hi":20.9},{"slot":"LOCOA TST","m":40.0,"lo":38.8,"hi":41.3},
{"slot":"HICOA BL","m":2.5,"lo":2.0,"hi":3.0},{"slot":"HICOA BL","m":16.8,"lo":15.6,"hi":18.0},{"slot":"HICOA BL","m":34.3,"lo":33.0,"hi":35.6},
{"slot":"HICOA TST","m":3.7,"lo":3.2,"hi":4.2},{"slot":"HICOA TST","m":20.1,"lo":19.0,"hi":21.2},{"slot":"HICOA TST","m":41.1,"lo":39.9,"hi":42.8}],
"Bbr": [{"slot":"LOCOA sig","top":39.5,"bot":33.8},{"slot":"LOCOA sig","top":20.3,"bot":17.3},{"slot":"LOCOA sig","top":3.3,"bot":2.6},{"slot":"HICOA sig","top":41.1,"bot":34.5},{"slot":"HICOA sig","top":20.1,"bot":16.9},{"slot":"HICOA sig","top":3.7,"bot":2.5}],
"C": [{"g":"LOCOA","c":"BL","s":"BL","v":4.95,"lo":3.8,"hi":6.0},{"g":"LOCOA","c":"TST","s":"LO","v":4.95,"lo":4.1,"hi":5.9},{"g":"HICOA","c":"BL","s":"BL","v":4.35,"lo":3.2,"hi":5.6},{"g":"HICOA","c":"TST","s":"HI","v":8.25,"lo":6.3,"hi":10.1}],
"E": [
{"m":"BIC","tw":"ON","s":"BL","v":23.9,"lo":18.7,"hi":28.3},{"m":"BIC","tw":"ON","s":"LO","v":20.0,"lo":15.6,"hi":23.9},{"m":"BIC","tw":"ON","s":"HI","v":28.3,"lo":21.3,"hi":34.8},
{"m":"BIC","tw":"ACC-","s":"BL","v":20.5,"lo":16.6,"hi":24.7},{"m":"BIC","tw":"ACC-","s":"LO","v":18.7,"lo":15.4,"hi":21.8},{"m":"BIC","tw":"ACC-","s":"HI","v":27.5,"lo":21.3,"hi":33.0},
{"m":"BIC","tw":"ACC+","s":"BL","v":7.8,"lo":4.9,"hi":9.6},{"m":"BIC","tw":"ACC+","s":"LO","v":7.0,"lo":5.7,"hi":9.6},{"m":"BIC","tw":"ACC+","s":"HI","v":14.8,"lo":10.9,"hi":17.9},
{"m":"BIC","tw":"VEL+","s":"BL","v":4.2,"lo":2.3,"hi":5.2},{"m":"BIC","tw":"VEL+","s":"LO","v":4.4,"lo":3.1,"hi":6.2},{"m":"BIC","tw":"VEL+","s":"HI","v":8.3,"lo":6.5,"hi":9.6},
{"m":"TRI","tw":"ON","s":"BL","v":10.5,"lo":8.7,"hi":12.3},{"m":"TRI","tw":"ON","s":"LO","v":10.5,"lo":8.9,"hi":12.6},{"m":"TRI","tw":"ON","s":"HI","v":11.0,"lo":9.2,"hi":13.5},
{"m":"TRI","tw":"ACC-","s":"BL","v":11.0,"lo":9.2,"hi":12.8},{"m":"TRI","tw":"ACC-","s":"LO","v":11.8,"lo":10.2,"hi":14.0},{"m":"TRI","tw":"ACC-","s":"HI","v":12.3,"lo":9.9,"hi":13.8},
{"m":"TRI","tw":"ACC+","s":"BL","v":11.5,"lo":9.2,"hi":12.6},{"m":"TRI","tw":"ACC+","s":"LO","v":9.7,"lo":8.5,"hi":11.5},{"m":"TRI","tw":"ACC+","s":"HI","v":12.3,"lo":10.0,"hi":14.1},
{"m":"TRI","tw":"VEL+","s":"BL","v":16.6,"lo":14.3,"hi":18.7},{"m":"TRI","tw":"VEL+","s":"LO","v":14.3,"lo":12.6,"hi":16.1},{"m":"TRI","tw":"VEL+","s":"HI","v":14.3,"lo":12.3,"hi":16.6}]
},
"vconcat": [
{"hconcat": [
 {"width": 157, "height": 121,
  "encoding": {"x": {"field": "t", "type": "quantitative", "scale": {"domain": [25, 182], "nice": false, "zero": false}, "axis": null},
               "y": {"field": "y", "type": "quantitative", "scale": {"domain": [36, 157], "reverse": true, "nice": false, "zero": false}, "axis": null}},
  "layer": [
   {"data": {"values": [{"t": 56}, {"t": 92.7}, {"t": 132.7}]}, "mark": {"type": "rule", "stroke": "#aaaaaa", "strokeDash": [4, 3], "strokeWidth": 1}, "encoding": {"y": {"datum": 22}, "y2": {"datum": 203}}},
   {"data": {"values": [{"t": 24, "t2": 182, "y": 34.3}, {"t": 24, "t2": 182, "y": 37.7}]}, "mark": {"type": "rule", "stroke": "#999999", "strokeDash": [1, 1], "strokeWidth": 0.8}, "encoding": {"x2": {"field": "t2"}}},
   {"data": {"name": "A"}, "mark": {"type": "line"},
    "encoding": {"detail": {"field": "k"},
     "color": {"field": "c", "type": "nominal", "scale": {"domain": ["BL", "LO", "HI"], "range": ["#000000", "#4b40dc", "#2b1fc8"]}, "legend": null},
     "strokeDash": {"field": "c", "type": "nominal", "scale": {"domain": ["BL", "LO", "HI"], "range": [[1, 0], [1.2, 1.2], [1, 0]]}, "legend": null},
     "strokeWidth": {"field": "c", "type": "nominal", "scale": {"domain": ["BL", "LO", "HI"], "range": [2.4, 0.9, 0.9]}, "legend": null}}},
   {"data": {"values": [{"lab": "bl", "t": 25, "t2": 33, "tc": 29, "y": 21.7}, {"lab": "on", "t": 48.5, "t2": 56.5, "tc": 52.5, "y": 21.7}, {"lab": "acc -", "t": 59, "t2": 66, "tc": 62.5, "y": 21.7}, {"lab": "acc +", "t": 67, "t2": 74, "tc": 70.5, "y": 25}, {"lab": "vel+", "t": 78, "t2": 85, "tc": 81.5, "y": 21.7}, {"lab": "ss", "t": 157, "t2": 164, "tc": 160.5, "y": 21.7}]},
    "layer": [
     {"mark": {"type": "rule", "stroke": "black", "strokeWidth": 3}, "encoding": {"x2": {"field": "t2"}}},
     {"mark": {"type": "text", "angle": 270, "align": "left", "baseline": "middle", "fontSize": 5.5, "fill": "#333333"}, "encoding": {"x": {"field": "tc", "type": "quantitative"}, "y": {"datum": 18.5}, "text": {"field": "lab"}}}
    ]},
   {"data": {"values": [{"lab": "d", "t": 25, "y": 61.7}, {"lab": "v", "t": 25, "y": 81.7}, {"lab": "a", "t": 25, "y": 111}, {"lab": "CoA", "t": 25, "y": 177.7}]}, "mark": {"type": "text", "align": "right", "baseline": "middle", "dx": -5, "fontSize": 8, "fill": "#222222"}, "encoding": {"text": {"field": "lab"}}},
   {"data": {"values": [{"t": 199, "t2": 199, "y": 151.7, "y2": 177.7}, {"t": 103.3, "t2": 182.3, "y": 190, "y2": 190}]}, "mark": {"type": "rule", "stroke": "black", "strokeWidth": 2.5}, "encoding": {"x2": {"field": "t2"}, "y2": {"field": "y2"}}},
   {"data": {"values": [{"lab": "A", "t": 2.5, "y": 10.5}]}, "mark": {"type": "text", "fontSize": 10, "fontWeight": "bold", "align": "left", "baseline": "alphabetic", "fill": "black"}, "encoding": {"text": {"field": "lab"}}}
  ]},
 {"hconcat": [
  {"width": 85, "height": 121,
   "title": {"text": "B", "anchor": "start", "frame": "group", "dx": -25, "offset": 23, "fontSize": 10, "fontWeight": "bold"},
   "layer": [
    {"data": {"name": "Bbars"}, "mark": {"type": "bar", "strokeWidth": 1.2},
     "encoding": {"x": {"field": "slot", "type": "nominal", "scale": {"domain": ["LOCOA BL", "LOCOA TST", "LOCOA sig", "HICOA BL", "HICOA TST", "HICOA sig"], "paddingInner": 0.14, "paddingOuter": 0.39}, "axis": null},
      "y": {"field": "v", "type": "quantitative", "scale": {"domain": [0, 45], "nice": false}, "axis": {"values": [0, 15, 30, 45], "title": "Displacement [°]", "domainColor": "#999999", "domainWidth": 1.5, "tickColor": "#999999", "tickSize": 3.5, "labelColor": "#666666", "labelFontSize": 6, "labelPadding": 1.5, "titleColor": "#555555", "titleFontSize": 6.5, "titlePadding": 4, "zindex": 1}},
      "fill": {"field": "s", "type": "nominal", "scale": {"domain": ["BL", "LO", "HI"], "range": ["#4d4d4d", "#ffffff", "#1e14c8"]}, "legend": null},
      "stroke": {"field": "s", "type": "nominal", "scale": {"domain": ["BL", "LO", "HI"], "range": ["#4d4d4d", "#5b55e0", "#1e14c8"]}, "legend": null},
      "strokeDash": {"field": "s", "type": "nominal", "scale": {"domain": ["BL", "LO", "HI"], "range": [[1, 0], [1.2, 1.2], [1, 0]]}, "legend": null}}},
    {"data": {"values": [{"v": 15}, {"v": 30}]}, "mark": {"type": "rule", "stroke": "white", "strokeWidth": 1.5}, "encoding": {"y": {"field": "v", "type": "quantitative"}}},
    {"data": {"values": [{"v": 32.7}, {"v": 27.2}]}, "mark": {"type": "rule", "stroke": "black", "strokeDash": [3, 3], "strokeWidth": 1}, "encoding": {"y": {"field": "v", "type": "quantitative"}}},
    {"data": {"name": "Berr"}, "mark": {"type": "rule", "stroke": "black", "strokeWidth": 1.2}, "encoding": {"x": {"field": "slot", "type": "nominal"}, "y": {"field": "lo", "type": "quantitative"}, "y2": {"field": "hi"}}},
    {"data": {"name": "Berr"}, "mark": {"type": "tick", "orient": "horizontal", "size": 6, "thickness": 1.2, "color": "black"}, "encoding": {"x": {"field": "slot", "type": "nominal"}, "y": {"field": "m", "type": "quantitative"}}},
    {"data": {"name": "Bbr"}, "mark": {"type": "rule", "stroke": "#e05a5a", "strokeWidth": 1.2, "xOffset": 3}, "encoding": {"x": {"field": "slot", "type": "nominal"}, "y": {"field": "top", "type": "quantitative"}, "y2": {"field": "bot"}}},
    {"data": {"name": "Bbr"}, "mark": {"type": "tick", "orient": "horizontal", "size": 6, "thickness": 1.2, "color": "#e05a5a"}, "encoding": {"x": {"field": "slot", "type": "nominal"}, "y": {"field": "top", "type": "quantitative"}}},
    {"data": {"name": "Bbr"}, "mark": {"type": "tick", "orient": "horizontal", "size": 6, "thickness": 1.2, "color": "#e05a5a"}, "encoding": {"x": {"field": "slot", "type": "nominal"}, "y": {"field": "bot", "type": "quantitative"}}},
    {"data": {"name": "Bbars"}, "mark": {"type": "text", "angle": 315, "align": "right", "baseline": "middle", "fontSize": 6, "fill": "#444444"}, "encoding": {"x": {"field": "slot", "type": "nominal"}, "y": {"datum": -2}, "text": {"field": "c"}}},
    {"data": {"values": [{"slot": "LOCOA BL", "g": "LOCOA"}, {"slot": "HICOA BL", "g": "HICOA"}]}, "mark": {"type": "text", "fontSize": 8, "fill": "#222222", "baseline": "middle", "xOffset": 6.4}, "encoding": {"x": {"field": "slot", "type": "nominal"}, "y": {"datum": -9.25}, "text": {"field": "g"}}}
   ]},
  {"width": 64, "height": 121,
   "title": {"text": "C", "anchor": "start", "frame": "group", "dx": -24, "offset": 23, "fontSize": 10, "fontWeight": "bold"},
   "layer": [
    {"data": {"name": "C"}, "mark": {"type": "bar", "strokeWidth": 1.2},
     "encoding": {"x": {"field": "g", "type": "nominal", "scale": {"domain": ["LOCOA", "HICOA"], "paddingInner": 0.3, "paddingOuter": 0.15}, "axis": null},
      "xOffset": {"field": "c", "type": "nominal", "scale": {"domain": ["BL", "TST"], "paddingInner": 0.05}},
      "y": {"field": "v", "type": "quantitative", "scale": {"domain": [0, 15], "nice": false}, "axis": {"values": [0, 5, 10, 15], "title": "CoA (tₗ) [% MVC]", "domainColor": "black", "domainWidth": 2, "tickColor": "black", "tickWidth": 1.5, "tickSize": 3, "labelColor": "#666666", "labelFontSize": 6, "labelPadding": 1.5, "titleColor": "#444444", "titleFontSize": 7.5, "titlePadding": 4, "zindex": 1}},
      "fill": {"field": "s", "type": "nominal", "scale": {"domain": ["BL", "LO", "HI"], "range": ["#4d4d4d", "#ffffff", "#1e14c8"]}, "legend": null},
      "stroke": {"field": "s", "type": "nominal", "scale": {"domain": ["BL", "LO", "HI"], "range": ["#4d4d4d", "#5b55e0", "#1e14c8"]}, "legend": null},
      "strokeDash": {"field": "s", "type": "nominal", "scale": {"domain": ["BL", "LO", "HI"], "range": [[1, 0], [1.2, 1.2], [1, 0]]}, "legend": null}}},
    {"data": {"values": [{"v": 5}, {"v": 10}]}, "mark": {"type": "rule", "stroke": "white", "strokeWidth": 1.5}, "encoding": {"y": {"field": "v", "type": "quantitative"}}},
    {"data": {"name": "C"}, "mark": {"type": "rule", "stroke": "black", "strokeWidth": 2}, "encoding": {"x": {"field": "g", "type": "nominal"}, "xOffset": {"field": "c", "type": "nominal"}, "y": {"field": "lo", "type": "quantitative"}, "y2": {"field": "hi"}}},
    {"data": {"values": [{"g": "HICOA"}]}, "mark": {"type": "tick", "orient": "horizontal", "size": 13, "thickness": 1.5, "color": "#d94a4a"}, "encoding": {"x": {"field": "g", "type": "nominal"}, "y": {"datum": 12}}},
    {"data": {"name": "C"}, "mark": {"type": "text", "angle": 315, "align": "right", "baseline": "middle", "fontSize": 6, "fill": "#444444"}, "encoding": {"x": {"field": "g", "type": "nominal"}, "xOffset": {"field": "c", "type": "nominal"}, "y": {"datum": -0.66}, "text": {"field": "c"}}},
    {"data": {"values": [{"g": "LOCOA"}, {"g": "HICOA"}]}, "mark": {"type": "text", "fontSize": 8, "fill": "#222222", "baseline": "middle"}, "encoding": {"x": {"field": "g", "type": "nominal"}, "y": {"datum": -3.08}, "text": {"field": "g"}}}
   ]}
 ], "spacing": 60, "bounds": "flush", "resolve": {"scale": {"x": "independent", "y": "independent", "xOffset": "independent"}}}
], "spacing": 88, "bounds": "flush", "resolve": {"scale": {"x": "independent", "y": "independent", "xOffset": "independent"}}},
{"hconcat": [
 {"width": 157, "height": 136,
  "encoding": {"x": {"field": "t", "type": "quantitative", "scale": {"domain": [25, 182], "nice": false, "zero": false}, "axis": null},
               "y": {"field": "y", "type": "quantitative", "scale": {"domain": [258, 394], "reverse": true, "nice": false, "zero": false}, "axis": null}},
  "layer": [
   {"data": {"values": [{"t": 56}, {"t": 92.7}, {"t": 132.7}]}, "mark": {"type": "rule", "stroke": "#aaaaaa", "strokeDash": [4, 3], "strokeWidth": 1}, "encoding": {"y": {"datum": 228}, "y2": {"datum": 410}}},
   {"data": {"values": [{"t": 45, "t2": 182, "y": 285.7}, {"t": 56, "t2": 182, "y": 353.5}, {"t": 60, "t2": 182, "y": 361.7}]}, "mark": {"type": "rule", "stroke": "#999999", "strokeDash": [1, 1], "strokeWidth": 0.8}, "encoding": {"x2": {"field": "t2"}}},
   {"data": {"name": "D"}, "transform": [{"filter": "datum.c === 'HI'"}], "mark": {"type": "line", "strokeWidth": 1},
    "encoding": {"detail": {"field": "k"}, "color": {"field": "c", "type": "nominal", "scale": {"domain": ["BL", "LO", "HI"], "range": ["#000000", "#4b40dc", "#2b1fc8"]}, "legend": null}}},
   {"data": {"name": "D"}, "transform": [{"filter": "datum.c === 'BL'"}], "mark": {"type": "line", "strokeWidth": 0.9},
    "encoding": {"detail": {"field": "k"}, "color": {"field": "c", "type": "nominal", "scale": {"domain": ["BL", "LO", "HI"], "range": ["#000000", "#4b40dc", "#2b1fc8"]}, "legend": null}}},
   {"data": {"values": [{"lab": "BIC", "t": 25, "y": 286}, {"lab": "TRI", "t": 25, "y": 298.5}, {"lab": "ADL", "t": 25, "y": 352}, {"lab": "PDL", "t": 25, "y": 366}]}, "mark": {"type": "text", "align": "right", "baseline": "middle", "dx": -2, "fontSize": 8, "fill": "#222222"}, "encoding": {"text": {"field": "lab"}}},
   {"data": {"values": [{"lab": "s51", "t": 175, "y": 381}]}, "mark": {"type": "text", "fontSize": 5, "fill": "#555555", "align": "left", "baseline": "middle"}, "encoding": {"text": {"field": "lab"}}},
   {"data": {"values": [{"lab": "D", "t": 2.5, "y": 236.5}]}, "mark": {"type": "text", "fontSize": 10, "fontWeight": "bold", "align": "left", "baseline": "alphabetic", "fill": "black"}, "encoding": {"text": {"field": "lab"}}}
  ]},
 {"vconcat": [
  {"width": 158, "height": 51,
   "title": {"text": "E", "anchor": "start", "frame": "group", "dx": -62, "offset": -7, "fontSize": 10, "fontWeight": "bold"},
   "layer": [
    {"data": {"values": [{"tw": "ACC-"}, {"tw": "ACC+"}, {"tw": "VEL+"}]}, "mark": {"type": "bar", "fill": "#b3b3b3", "width": {"band": 1.39}, "xOffset": 3},
     "encoding": {"x": {"field": "tw", "type": "nominal", "scale": {"domain": ["ON", "ACC-", "ACC+", "VEL+"], "paddingInner": 0.28, "paddingOuter": 0.33}, "axis": null},
      "y": {"datum": 53, "type": "quantitative", "scale": {"domain": [0, 40], "nice": false}, "axis": {"values": [0, 20, 40], "title": "% MVC", "domainColor": "black", "domainWidth": 2, "tickColor": "black", "tickWidth": 1.5, "tickSize": 3, "labelColor": "#666666", "labelFontSize": 6, "labelPadding": 1.5, "titleColor": "#444444", "titleFontSize": 7.5, "titlePadding": 4, "zindex": 1}},
      "y2": {"datum": -4}}},
    {"data": {"name": "E"}, "transform": [{"filter": "datum.m === 'BIC'"}], "mark": {"type": "bar", "strokeWidth": 1.2},
     "encoding": {"x": {"field": "tw", "type": "nominal", "axis": null},
      "xOffset": {"field": "s", "type": "nominal", "scale": {"domain": ["BL", "LO", "HI"], "paddingInner": 0.05}},
      "y": {"field": "v", "type": "quantitative"},
      "fill": {"field": "s", "type": "nominal", "scale": {"domain": ["BL", "LO", "HI"], "range": ["#4d4d4d", "#ffffff", "#1e14c8"]}, "legend": null},
      "stroke": {"field": "s", "type": "nominal", "scale": {"domain": ["BL", "LO", "HI"], "range": ["#4d4d4d", "#5b55e0", "#1e14c8"]}, "legend": null},
      "strokeDash": {"field": "s", "type": "nominal", "scale": {"domain": ["BL", "LO", "HI"], "range": [[1, 0], [1.2, 1.2], [1, 0]]}, "legend": null}}},
    {"data": {"values": [{"v": 10}, {"v": 20}, {"v": 30}]}, "mark": {"type": "rule", "stroke": "white", "strokeWidth": 1.5}, "encoding": {"y": {"field": "v", "type": "quantitative"}}},
    {"data": {"name": "E"}, "transform": [{"filter": "datum.m === 'BIC'"}], "mark": {"type": "rule", "stroke": "black", "strokeWidth": 2}, "encoding": {"x": {"field": "tw", "type": "nominal", "axis": null}, "xOffset": {"field": "s", "type": "nominal"}, "y": {"field": "lo", "type": "quantitative"}, "y2": {"field": "hi"}}},
    {"data": {"values": [{"tw": "ACC-"}, {"tw": "ACC+"}, {"tw": "VEL+"}]}, "mark": {"type": "tick", "orient": "horizontal", "size": 18, "thickness": 1.5, "color": "#e06060"}, "encoding": {"x": {"field": "tw", "type": "nominal", "axis": null}, "y": {"datum": 49.3}}},
    {"data": {"values": [{}]}, "mark": {"type": "text", "text": "BIC", "fontSize": 8, "fill": "#222222", "align": "left", "baseline": "alphabetic", "xOffset": -16}, "encoding": {"x": {"datum": "ON", "type": "nominal", "axis": null}, "y": {"datum": 55.3}}}
   ]},
  {"width": 158, "height": 52,
   "layer": [
    {"data": {"name": "E"}, "transform": [{"filter": "datum.m === 'TRI'"}], "mark": {"type": "bar", "strokeWidth": 1.2},
     "encoding": {"x": {"field": "tw", "type": "nominal", "scale": {"domain": ["ON", "ACC-", "ACC+", "VEL+"], "paddingInner": 0.28, "paddingOuter": 0.33}, "axis": {"title": "Time Window", "domain": false, "ticks": false, "labelAngle": 0, "labelFontSize": 6, "labelColor": "#444444", "labelPadding": 5, "titleFontSize": 7, "titleColor": "#222222", "titlePadding": 3}},
      "xOffset": {"field": "s", "type": "nominal", "scale": {"domain": ["BL", "LO", "HI"], "paddingInner": 0.05}},
      "y": {"field": "v", "type": "quantitative", "scale": {"domain": [0, 40], "nice": false}, "axis": {"values": [0, 20, 40], "title": "% MVC", "domainColor": "black", "domainWidth": 2, "tickColor": "black", "tickWidth": 1.5, "tickSize": 3, "labelColor": "#666666", "labelFontSize": 6, "labelPadding": 1.5, "titleColor": "#444444", "titleFontSize": 7.5, "titlePadding": 4, "zindex": 1}},
      "fill": {"field": "s", "type": "nominal", "scale": {"domain": ["BL", "LO", "HI"], "range": ["#4d4d4d", "#ffffff", "#1e14c8"]}, "legend": null},
      "stroke": {"field": "s", "type": "nominal", "scale": {"domain": ["BL", "LO", "HI"], "range": ["#4d4d4d", "#5b55e0", "#1e14c8"]}, "legend": null},
      "strokeDash": {"field": "s", "type": "nominal", "scale": {"domain": ["BL", "LO", "HI"], "range": [[1, 0], [1.2, 1.2], [1, 0]]}, "legend": null}}},
    {"data": {"values": [{"v": 10}, {"v": 20}, {"v": 30}]}, "mark": {"type": "rule", "stroke": "white", "strokeWidth": 1.5}, "encoding": {"y": {"field": "v", "type": "quantitative"}}},
    {"data": {"name": "E"}, "transform": [{"filter": "datum.m === 'TRI'"}], "mark": {"type": "rule", "stroke": "black", "strokeWidth": 2}, "encoding": {"x": {"field": "tw", "type": "nominal"}, "xOffset": {"field": "s", "type": "nominal"}, "y": {"field": "lo", "type": "quantitative"}, "y2": {"field": "hi"}}},
    {"data": {"values": [{}]}, "mark": {"type": "text", "text": "TRI", "fontSize": 8, "fill": "#222222", "align": "left", "baseline": "alphabetic", "xOffset": -16}, "encoding": {"x": {"datum": "ON", "type": "nominal"}, "y": {"datum": 41.4}}}
   ]}
 ], "spacing": 33, "bounds": "flush", "resolve": {"scale": {"x": "independent", "y": "independent", "xOffset": "independent"}}}
], "spacing": 102, "bounds": "flush", "resolve": {"scale": {"x": "independent", "y": "independent", "xOffset": "independent"}}}
]
}
